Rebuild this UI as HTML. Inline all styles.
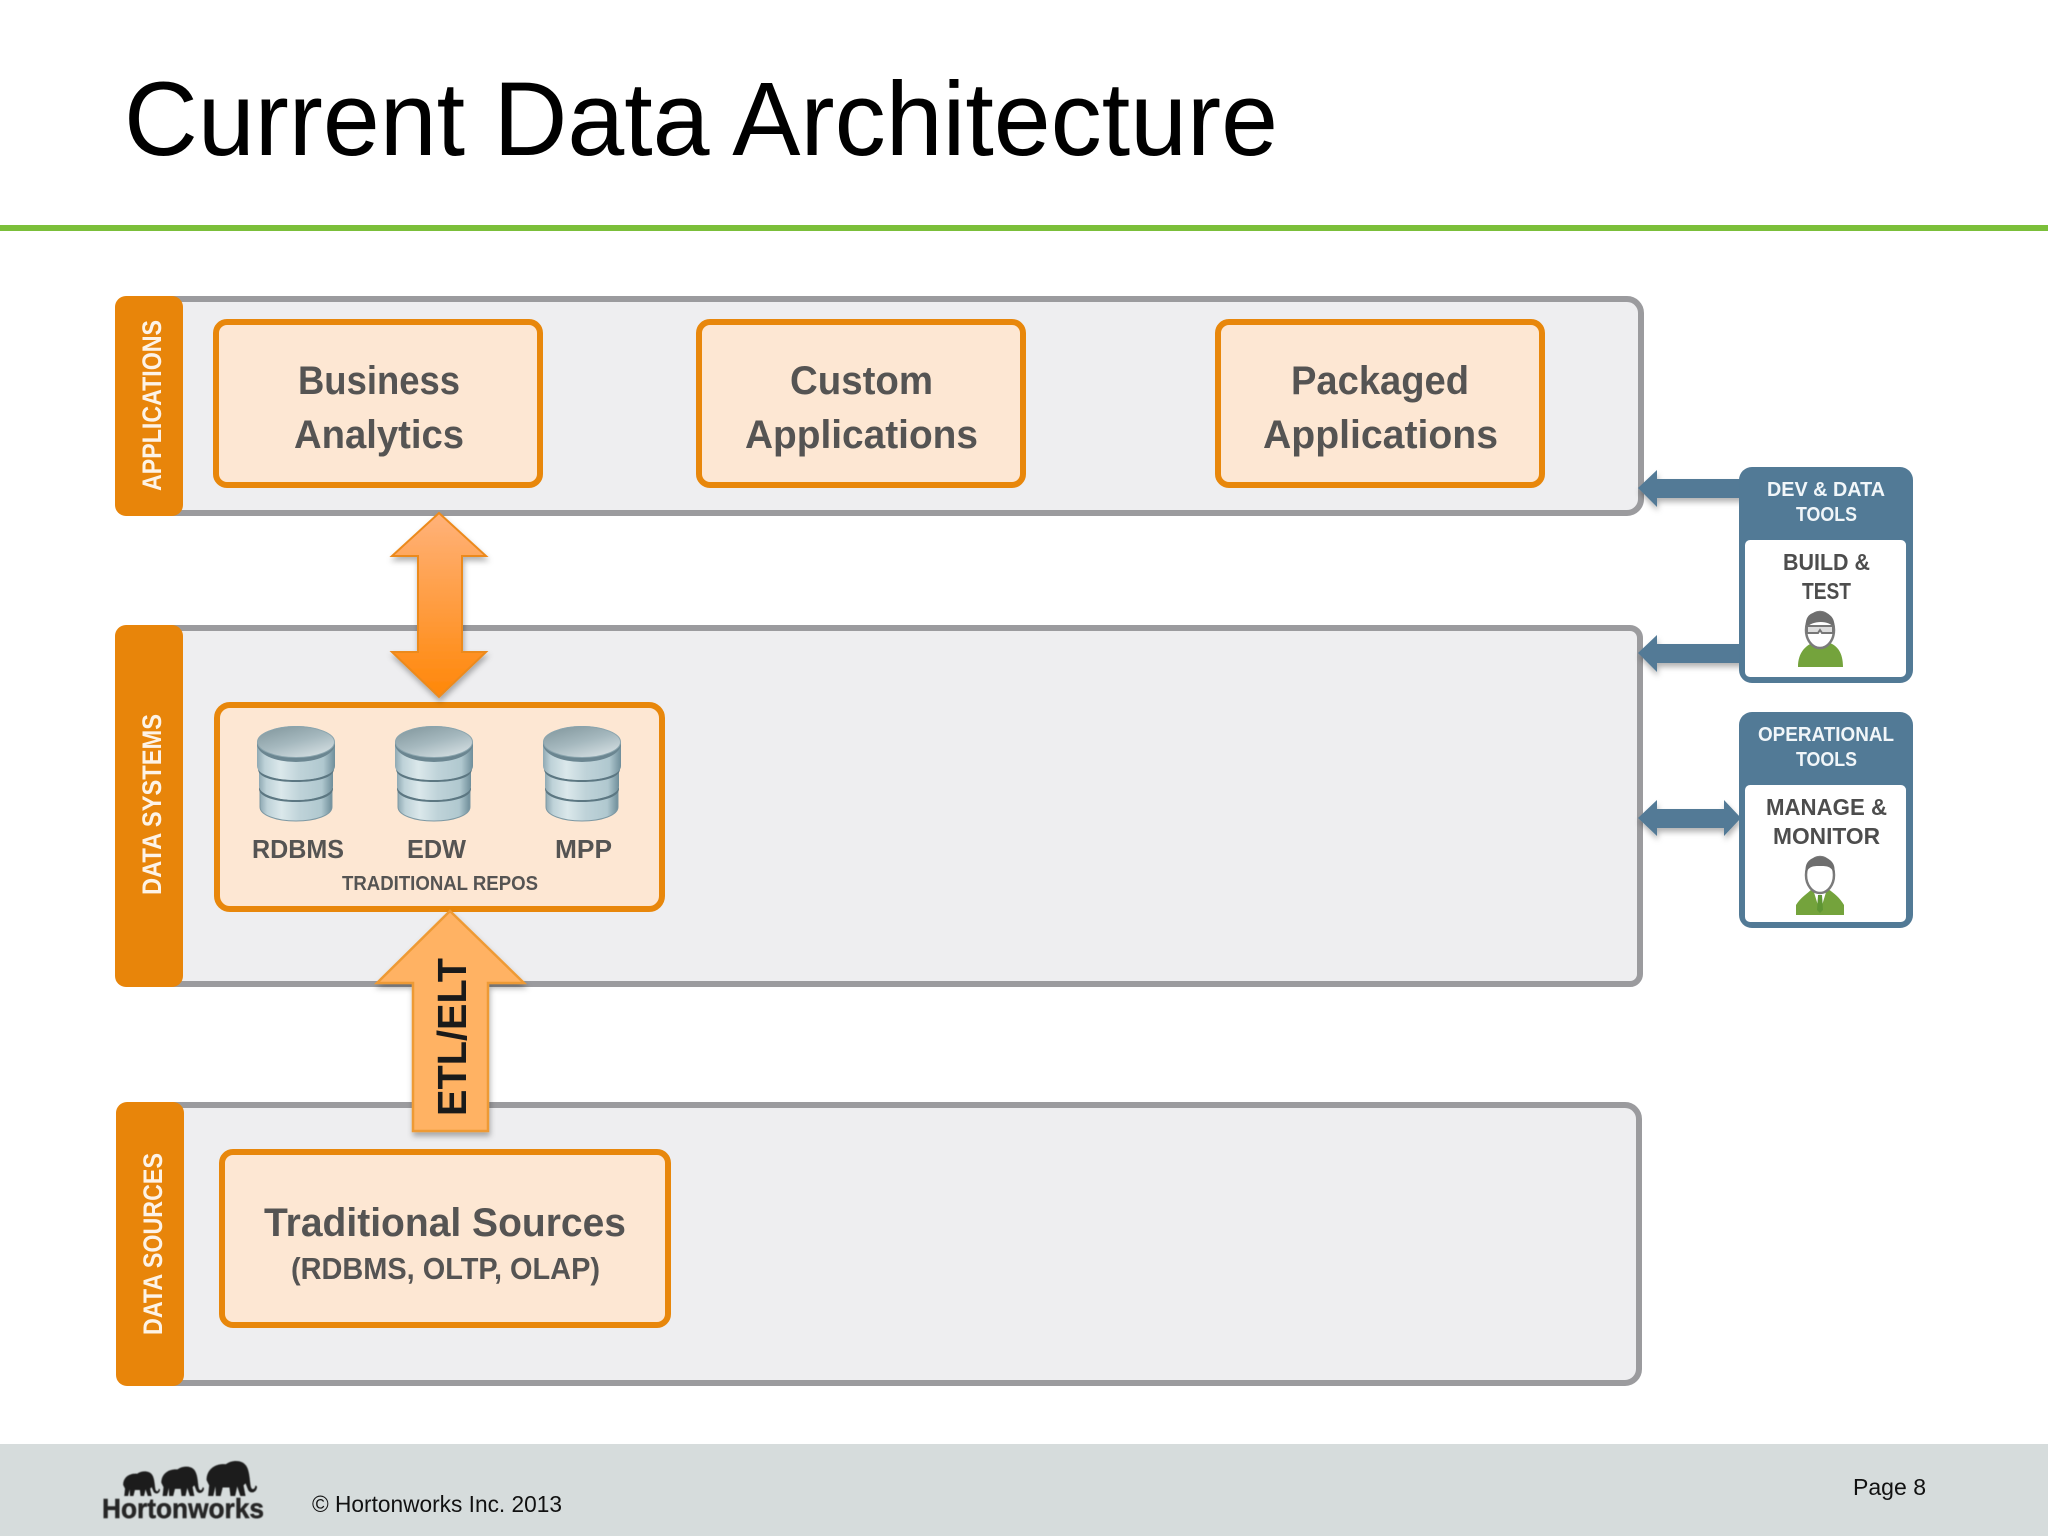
<!DOCTYPE html>
<html lang="en"><head><meta charset="utf-8"><title>Current Data Architecture</title>
<style>html,body{margin:0;padding:0;background:#fff}svg{display:block}text{font-family:"Liberation Sans",sans-serif}</style></head>
<body>
<svg xmlns="http://www.w3.org/2000/svg" width="2048" height="1536" viewBox="0 0 2048 1536">
<defs>
<linearGradient id="dbl" x1="0" y1="0" x2="0" y2="1"><stop offset="0" stop-color="#ffb27a"/><stop offset="1" stop-color="#ff8708"/></linearGradient>
<linearGradient id="side" x1="0" y1="0" x2="1" y2="0"><stop offset="0" stop-color="#8fa9b3"/><stop offset=".1" stop-color="#bed2d8"/><stop offset=".3" stop-color="#dbe8eb"/><stop offset=".55" stop-color="#bfd3d9"/><stop offset=".85" stop-color="#b0c8cf"/><stop offset="1" stop-color="#6f8e9a"/></linearGradient>
<linearGradient id="top" x1="0.15" y1="0" x2="0.8" y2="1"><stop offset="0" stop-color="#84999f"/><stop offset=".5" stop-color="#a5b8be"/><stop offset="1" stop-color="#d6e0e3"/></linearGradient>
<filter id="sh" x="-30%" y="-30%" width="160%" height="160%"><feDropShadow dx="1" dy="4" stdDeviation="3" flood-color="#000" flood-opacity=".3"/></filter>
<filter id="bl" x="-10%" y="-10%" width="120%" height="120%"><feGaussianBlur stdDeviation=".6"/></filter>
<symbol id="cyl" viewBox="0 0 80 96" width="80" height="96" overflow="visible">
<path d="M4 62V81C4 89 20 95 40 95S76 89 76 81V62Z" fill="url(#side)" stroke="#7d98a3" stroke-width="1"/>
<path d="M3 60C3 68 20 74 40 74S77 68 77 60V63C77 71 60 76 40 76S3 71 3 63Z" fill="#5c7782"/>
<path d="M3 42V60C3 68 20 74 40 74S77 68 77 60V42Z" fill="url(#side)"/>
<path d="M2 40C2 49 20 54 40 54S78 49 78 40V43C78 52 60 56 40 56S2 52 2 43Z" fill="#5c7782"/>
<path d="M1 18V40C1 49 20 54 40 54S79 49 79 40V18Z" fill="url(#side)"/>
<ellipse cx="40" cy="18" rx="39" ry="18" fill="#6b8691"/>
<ellipse cx="40" cy="16" rx="38.5" ry="15.5" fill="url(#top)" stroke="#8ba5ae" stroke-width="1"/>
</symbol>
<symbol id="ele" viewBox="0 0 100 70" preserveAspectRatio="none" overflow="visible">
<path d="M3 40C3 18 22 8 40 10C50 2 72 0 80 14C86 24 86 42 88 52C90 60 96 58 97 50L100 52C100 64 86 68 82 56L78 46L74 50L78 70L68 70L62 52L58 70L49 70L47 54L34 54L30 70L21 70L20 52L16 70L6 70L8 50Z" fill="#1d1d1d"/>
</symbol>
</defs>

<rect width="2048" height="1536" fill="#fff"/>
<text x="124" y="155" font-size="105" fill="#000" textLength="1154" lengthAdjust="spacingAndGlyphs">Current Data Architecture</text>
<rect x="0" y="225" width="2048" height="6" fill="#7bbf3a"/>

<!-- panels -->
<rect x="130" y="299" width="1511" height="214" rx="14" fill="#eeeef0" stroke="#9b9b9e" stroke-width="6"/>
<rect x="130" y="628" width="1510" height="356" rx="10" fill="#eeeef0" stroke="#9b9b9e" stroke-width="6"/>
<rect x="130" y="1105" width="1509" height="278" rx="14" fill="#eeeef0" stroke="#9b9b9e" stroke-width="6"/>
<rect x="115" y="296" width="68" height="220" rx="11" fill="#e8850a"/>
<rect x="115" y="625" width="68" height="362" rx="11" fill="#e8850a"/>
<rect x="116" y="1102" width="68" height="284" rx="11" fill="#e8850a"/>
<text transform="translate(161,491) rotate(-90)" font-size="27" font-weight="bold" fill="#fdf3e7" textLength="171" lengthAdjust="spacingAndGlyphs">APPLICATIONS</text>
<text transform="translate(161,895) rotate(-90)" font-size="27" font-weight="bold" fill="#fdf3e7" textLength="181" lengthAdjust="spacingAndGlyphs">DATA SYSTEMS</text>
<text transform="translate(162,1335) rotate(-90)" font-size="27" font-weight="bold" fill="#fdf3e7" textLength="182" lengthAdjust="spacingAndGlyphs">DATA SOURCES</text>

<!-- boxes -->
<g fill="#fde7d3" stroke="#e8870b" stroke-width="6">
<rect x="216" y="322" width="324" height="163" rx="11"/>
<rect x="699" y="322" width="324" height="163" rx="11"/>
<rect x="1218" y="322" width="324" height="163" rx="11"/>
<rect x="217" y="705" width="445" height="204" rx="13"/>
<rect x="222" y="1152" width="446" height="173" rx="11"/>
</g>
<g font-weight="bold" fill="#555453" font-size="40">
<text x="298" y="394" textLength="162" lengthAdjust="spacingAndGlyphs">Business</text>
<text x="294" y="448" textLength="170" lengthAdjust="spacingAndGlyphs">Analytics</text>
<text x="790" y="394" textLength="143" lengthAdjust="spacingAndGlyphs">Custom</text>
<text x="745" y="448" textLength="233" lengthAdjust="spacingAndGlyphs">Applications</text>
<text x="1291" y="394" textLength="178" lengthAdjust="spacingAndGlyphs">Packaged</text>
<text x="1263" y="448" textLength="235" lengthAdjust="spacingAndGlyphs">Applications</text>
<text x="264" y="1236" textLength="362" lengthAdjust="spacingAndGlyphs">Traditional Sources</text>
<text x="291" y="1279" font-size="31" textLength="309" lengthAdjust="spacingAndGlyphs">(RDBMS, OLTP, OLAP)</text>
<text x="252" y="858" font-size="26" textLength="92" lengthAdjust="spacingAndGlyphs">RDBMS</text>
<text x="407" y="858" font-size="26" textLength="59" lengthAdjust="spacingAndGlyphs">EDW</text>
<text x="555" y="858" font-size="26" textLength="57" lengthAdjust="spacingAndGlyphs">MPP</text>
<text x="342" y="890" font-size="20" textLength="196" lengthAdjust="spacingAndGlyphs">TRADITIONAL REPOS</text>
</g>

<use href="#cyl" x="256" y="726"/>
<use href="#cyl" x="394" y="726"/>
<use href="#cyl" x="542" y="726"/>

<!-- orange arrows -->
<path d="M439 513L486 556H462V652H486L439 697L392 652H418V556H392Z" fill="url(#dbl)" stroke="#ec8a1e" stroke-width="2" filter="url(#sh)"/>
<path d="M450 911L524 983H488V1131H413V983H377Z" fill="#ffb263" stroke="#ee9a34" stroke-width="2.5" filter="url(#sh)"/>
<text transform="translate(466,1116) rotate(-90)" font-size="41" font-weight="bold" fill="#1a1a1a" textLength="158" lengthAdjust="spacingAndGlyphs">ETL/ELT</text>

<!-- tool arrows -->
<g fill="#527a96" filter="url(#sh)">
<path d="M1638 488L1657 470V479H1745V498H1657V507Z"/>
<path d="M1638 653L1657 635V644H1745V663H1657V672Z"/>
<path d="M1638 818L1657 800V809H1724V800L1741 818L1724 836V828H1657V836Z"/>
</g>

<!-- tool boxes -->
<rect x="1739" y="467" width="174" height="216" rx="13" fill="#527a96"/>
<rect x="1745" y="540" width="161" height="137" rx="5" fill="#fff"/>
<rect x="1739" y="712" width="174" height="216" rx="13" fill="#527a96"/>
<rect x="1745" y="785" width="161" height="137" rx="5" fill="#fff"/>
<g font-weight="bold" font-size="20" fill="#f1f6f9">
<text x="1767" y="496" textLength="118" lengthAdjust="spacingAndGlyphs">DEV &amp; DATA</text>
<text x="1796" y="521" textLength="61" lengthAdjust="spacingAndGlyphs">TOOLS</text>
<text x="1758" y="741" textLength="136" lengthAdjust="spacingAndGlyphs">OPERATIONAL</text>
<text x="1796" y="766" textLength="61" lengthAdjust="spacingAndGlyphs">TOOLS</text>
</g>
<g font-weight="bold" font-size="23" fill="#4d4d4d">
<text x="1783" y="570" textLength="87" lengthAdjust="spacingAndGlyphs">BUILD &amp;</text>
<text x="1802" y="599" textLength="49" lengthAdjust="spacingAndGlyphs">TEST</text>
<text x="1766" y="815" textLength="121" lengthAdjust="spacingAndGlyphs">MANAGE &amp;</text>
<text x="1773" y="844" textLength="107" lengthAdjust="spacingAndGlyphs">MONITOR</text>
</g>

<!-- person 1 -->
<path d="M1798 667C1798 652 1806 646 1812 643C1816 649 1826 649 1830 643C1837 646 1843 652 1843 667Z" fill="#74a33c"/>
<ellipse cx="1820" cy="630" rx="14" ry="18" fill="#fff" stroke="#7b7b7b" stroke-width="2.5"/>
<path d="M1806 628C1804 612 1816 612 1820 612C1828 612 1836 617 1834 628C1830 620 1812 620 1806 628Z" fill="#6e6e6e"/>
<path d="M1807 626H1833V633H1822L1820 630L1818 633H1807Z" fill="#ddd" stroke="#777" stroke-width="2"/>
<!-- person 2 -->
<path d="M1796 915V905C1800 898 1808 893 1812 889L1820 896L1828 889C1834 893 1840 898 1844 905V915Z" fill="#74a33c"/>
<path d="M1813 889L1820 912L1827 889L1820 893Z" fill="#fff"/>
<path d="M1818 895h4l1 15l-3 3l-3-3z" fill="#5f9634"/>
<ellipse cx="1820" cy="875" rx="14" ry="18" fill="#fff" stroke="#7b7b7b" stroke-width="2.5"/>
<path d="M1806 874C1803 858 1816 857 1820 857C1828 857 1837 862 1834 874C1832 866 1826 866 1820 866C1814 866 1808 866 1806 874Z" fill="#6e6e6e"/>

<!-- footer -->
<rect x="0" y="1444" width="2048" height="92" fill="#d6dcdc"/>
<g filter="url(#bl)">
<use href="#ele" x="122" y="1470" width="38" height="26"/>
<use href="#ele" x="160" y="1465" width="44" height="31"/>
<use href="#ele" x="205" y="1459" width="52" height="37"/>
<text x="102" y="1518" font-size="28" font-weight="bold" fill="#262626" stroke="#262626" stroke-width=".5" textLength="162" lengthAdjust="spacingAndGlyphs">Hortonworks</text>
</g>
<text x="312" y="1512" font-size="23.5" fill="#111" textLength="250" lengthAdjust="spacingAndGlyphs">© Hortonworks Inc. 2013</text>
<text x="1853" y="1495" font-size="23.5" fill="#111" textLength="73" lengthAdjust="spacingAndGlyphs">Page 8</text>
</svg>
</body></html>
